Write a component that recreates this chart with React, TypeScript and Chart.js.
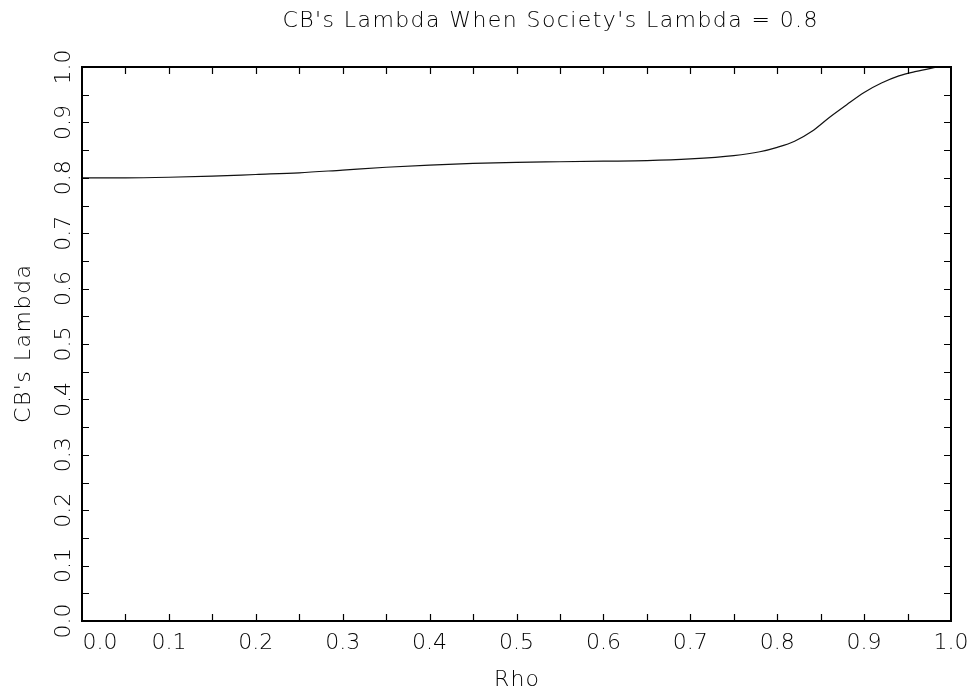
import React, { useEffect, useRef } from "react";
import { Chart, registerables } from "chart.js";

Chart.register(...registerables);

// ---- data ----
const rho: number[] = [
  0.0, 0.05, 0.1, 0.15, 0.2, 0.25, 0.3, 0.35, 0.4, 0.45, 0.5, 0.55, 0.6, 0.65,
  0.7, 0.75, 0.78, 0.8, 0.82, 0.84, 0.86, 0.88, 0.9, 0.92, 0.94, 0.96, 0.985,
];
const cbLambda: number[] = [
  0.8, 0.8, 0.801, 0.803, 0.806, 0.809, 0.814, 0.819, 0.823, 0.826, 0.828,
  0.829, 0.830, 0.831, 0.834, 0.840, 0.847, 0.855, 0.866, 0.884, 0.909,
  0.932, 0.954, 0.971, 0.984, 0.992, 1.0,
];
const xTickLabels: string[] = ["0.0", "0.1", "0.2", "0.3", "0.4", "0.5", "0.6", "0.7", "0.8", "0.9", "1.0"];
const yTickLabels: string[] = ["0.0", "0.1", "0.2", "0.3", "0.4", "0.5", "0.6", "0.7", "0.8", "0.9", "1.0"];
const tickStep = 0.05;
const titleText = "CB's Lambda When Society's Lambda = 0.8";
const xTitle = "Rho";
const yTitle = "CB's Lambda";

const FONT = "200 22px 'DejaVu Sans', 'Liberation Sans', sans-serif";
const SPACING = 2;

function drawText(ctx: CanvasRenderingContext2D, text: string, cx: number, cy: number, targetWidth?: number) {
  let sp = SPACING;
  (ctx as any).letterSpacing = "0px";
  if (targetWidth && text.length > 1) {
    const base = ctx.measureText(text).width;
    sp = Math.max(0, (targetWidth - base) / (text.length - 1));
  }
  (ctx as any).letterSpacing = sp + "px";
  const w = ctx.measureText(text).width - sp;
  ctx.textAlign = "left";
  ctx.textBaseline = "middle";
  ctx.fillText(text, cx - w / 2, cy);
}

const framePlugin = {
  id: "framePlugin",
  afterDraw(chart: any) {
    const ctx: CanvasRenderingContext2D = chart.ctx;
    const { left, right, top, bottom } = chart.chartArea;
    const xs = chart.scales.x;
    const ys = chart.scales.y;
    ctx.save();
    ctx.strokeStyle = "#000";
    ctx.fillStyle = "#000";
    // frame
    ctx.lineWidth = 2;
    ctx.strokeRect(left, top, right - left, bottom - top);
    // ticks
    ctx.lineWidth = 1.2;
    const n = Math.round(1 / tickStep);
    const len = 7;
    ctx.beginPath();
    for (let i = 1; i < n; i++) {
      const v = i * tickStep;
      const px = Math.round(xs.getPixelForValue(v)) + 0.5;
      ctx.moveTo(px, bottom);
      ctx.lineTo(px, bottom - len);
      ctx.moveTo(px, top);
      ctx.lineTo(px, top + len);
      const py = Math.round(ys.getPixelForValue(v)) + 0.5;
      ctx.moveTo(left, py);
      ctx.lineTo(left + len, py);
      ctx.moveTo(right, py);
      ctx.lineTo(right - len, py);
    }
    ctx.stroke();
    // labels
    ctx.font = FONT;
    ctx.fillStyle = "#000";
    xTickLabels.forEach((lab, i) => {
      const v = parseFloat(lab);
      let px = xs.getPixelForValue(v);
      if (i === 0) px += 18;
      drawText(ctx, lab, px, bottom + 22, 34);
    });
    yTickLabels.forEach((lab) => {
      const v = parseFloat(lab);
      const py = ys.getPixelForValue(v);
      ctx.save();
      ctx.translate(left - 18, py);
      ctx.rotate(-Math.PI / 2);
      drawText(ctx, lab, 0, 0, 32);
      ctx.restore();
    });
    // titles
    drawText(ctx, titleText, 550, 21, 535);
    drawText(ctx, xTitle, (left + right) / 2, bottom + 59, 45);
    ctx.save();
    ctx.translate(24, (top + bottom) / 2);
    ctx.rotate(-Math.PI / 2);
    drawText(ctx, yTitle, 0, 0, 158);
    ctx.restore();
    ctx.restore();
  },
};

export default function App() {
  const ref = useRef<HTMLCanvasElement | null>(null);
  useEffect(() => {
    document.body.style.margin = "0";
    const canvas = ref.current;
    if (!canvas) return;
    const chart = new Chart(canvas, {
      type: "line",
      data: {
        datasets: [
          {
            data: rho.map((x, i) => ({ x, y: cbLambda[i] })),
            borderColor: "#111",
            borderWidth: 1.2,
            pointRadius: 0,
            fill: false,
            cubicInterpolationMode: "monotone",
          },
        ],
      },
      options: {
        animation: false,
        responsive: false,
        devicePixelRatio: 1,
        layout: { padding: { left: 82, top: 67, right: 21, bottom: 75 } },
        plugins: { legend: { display: false }, tooltip: { enabled: false }, title: { display: false } },
        scales: {
          x: { type: "linear", min: 0, max: 1, display: false },
          y: { type: "linear", min: 0, max: 1, display: false },
        },
      },
      plugins: [framePlugin],
    });
    return () => chart.destroy();
  }, []);
  return <canvas ref={ref} width={972} height={696} style={{ display: "block", background: "#fff" }} />;
}
